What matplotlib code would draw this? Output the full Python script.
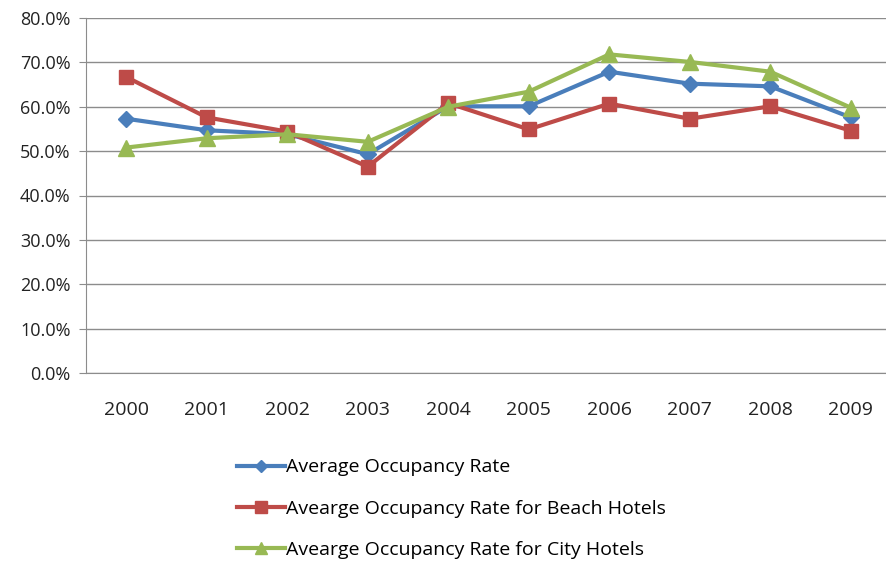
import matplotlib.pyplot as plt
from matplotlib.ticker import FuncFormatter

years = ['2000', '2001', '2002', '2003', '2004', '2005', '2006', '2007', '2008', '2009']
avg_rate = [57.3, 54.7, 53.8, 49.3, 60.1, 60.1, 67.9, 65.2, 64.6, 57.6]
beach_rate = [66.7, 57.6, 54.4, 46.5, 60.8, 54.9, 60.7, 57.3, 60.1, 54.6]
city_rate = [50.8, 52.9, 53.8, 52.1, 60.0, 63.4, 71.8, 70.1, 67.9, 59.8]

labels = ['Average Occupancy Rate',
          'Avearge Occupancy Rate for Beach Hotels',
          'Avearge Occupancy Rate for City Hotels']

plt.rcParams['font.family'] = ['Open Sans', 'DejaVu Sans']

fig = plt.figure(figsize=(8.86, 5.61), dpi=100)
ax = fig.add_axes([86 / 886, 1 - 373 / 561, 805 / 886, 355 / 561])

x = list(range(len(years)))
ax.plot(x, avg_rate, color='#4a7ebb', marker='D', markersize=8, linewidth=3, label=labels[0])
ax.plot(x, beach_rate, color='#be4b48', marker='s', markersize=10, linewidth=3, label=labels[1])
ax.plot(x, city_rate, color='#98b954', marker='^', markersize=11, linewidth=3, label=labels[2])

ax.set_xlim(-0.5, len(years) - 0.5)
ax.set_ylim(0, 80)
ax.set_yticks(range(0, 81, 10))
ax.yaxis.set_major_formatter(FuncFormatter(lambda v, p: f'{v:.1f}%'))
ax.set_xticks(x)
ax.set_xticklabels(years)
ax.grid(axis='y', color='#8c8c8c', linewidth=1)
ax.set_axisbelow(True)
for s in ['top', 'right']:
    ax.spines[s].set_visible(False)
for s in ['left', 'bottom']:
    ax.spines[s].set_color('#8c8c8c')
ax.tick_params(axis='both', colors='#8c8c8c', labelcolor='#222222', length=5)
ax.tick_params(axis='x', pad=20, length=0, labelsize=14)
ax.tick_params(axis='y', pad=6, labelsize=13)

fig.legend(loc='upper left', bbox_to_anchor=(219 / 886, 1 - 441 / 561), frameon=False,
           fontsize=14, labelspacing=1.2, handlelength=2.5, handletextpad=0.05,
           markerscale=0.8)

fig.savefig('out.png', dpi=100)
